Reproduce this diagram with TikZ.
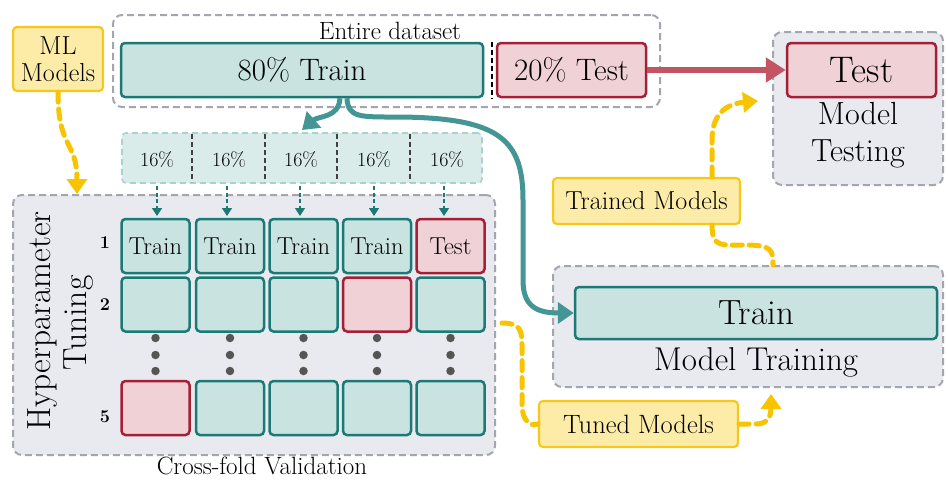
\documentclass[tikz,border=0pt]{standalone}
\usetikzlibrary{arrows.meta,calc}

% palette
\definecolor{tealfill}{HTML}{C8E3E0}
\definecolor{tealline}{HTML}{1C7A76}
\definecolor{tealarrow}{HTML}{439694}
\definecolor{stripfill}{HTML}{D9ECEA}
\definecolor{stripline}{HTML}{A7D2CE}
\definecolor{pinkfill}{HTML}{EFD1D6}
\definecolor{redline}{HTML}{A51F36}
\definecolor{redarrow}{HTML}{C25463}
\definecolor{grayfill}{HTML}{E9EAEF}
\definecolor{grayline}{HTML}{A4A6AF}
\definecolor{notefill}{HTML}{FDEBA8}
\definecolor{noteline}{HTML}{F6C81A}
\definecolor{yarrowc}{HTML}{F8C400}
\definecolor{dotc}{HTML}{555555}

\newcommand{\tsize}[2]{\fontsize{#1}{#2}\selectfont}

\tikzset{
  groupbox/.style={draw=grayline, fill=grayfill, line width=2pt,
    dash pattern=on 7pt off 4pt, rounded corners=9pt, inner sep=0pt},
  trainbox/.style={draw=tealline, fill=tealfill, line width=2.5pt,
    rounded corners=4pt, inner sep=0pt},
  testbox/.style={draw=redline, fill=pinkfill, line width=2.5pt,
    rounded corners=4pt, inner sep=0pt},
  notebox/.style={draw=noteline, fill=notefill, line width=2.2pt,
    rounded corners=4pt, inner sep=0pt, align=center},
  cell/.style={minimum width=68pt, minimum height=54pt},
  yarrow/.style={draw=yarrowc, line width=5pt, dash pattern=on 10pt off 7pt,
    line cap=round, -{Triangle[length=15pt,width=20pt]}},
  yline/.style={draw=yarrowc, line width=5pt, dash pattern=on 10pt off 7pt,
    line cap=round},
  tarrow/.style={draw=tealarrow, line width=5pt,
    -{Triangle[length=16pt,width=21pt]}},
  rarrow/.style={draw=redarrow, line width=6pt,
    -{Triangle[length=20pt,width=24pt]}},
  splitarrow/.style={draw=tealline, line width=1.6pt, dash pattern=on 4pt off 2.5pt,
    -{Triangle[length=8pt,width=10pt]}},
  divider/.style={draw=black!75, line width=1.6pt, dash pattern=on 5pt off 3pt},
  gdot/.style={circle, fill=dotc, inner sep=0pt, minimum size=8.5pt},
}

\begin{document}
\begin{tikzpicture}[x=1pt,y=-1pt]
\useasboundingbox[fill=white] (0,0) rectangle (948,480);

% ---------- entire dataset ----------
\node[groupbox, fill=white, minimum width=547pt, minimum height=92pt] (dataset) at (386.5,61) {};
\node[font=\tsize{25}{28}] (datalbl) at (390,31) {Entire dataset};
\node[trainbox, minimum width=362pt, minimum height=54pt, font=\tsize{31}{34}] (train80) at (302,70) {80\% Train};
\node[testbox, minimum width=149pt, minimum height=54pt, font=\tsize{31}{34}] (test20) at (571.5,70) {20\% Test};
\draw[black, line width=2.2pt, dash pattern=on 5pt off 3pt]
  ([xshift=8pt]train80.north east) -- ([xshift=8pt]train80.south east);

% ---------- model testing ----------
\node[groupbox, minimum width=170pt, minimum height=153pt] (testing) at (858,108.5) {};
\node[testbox, minimum width=149pt, minimum height=54pt, font=\tsize{37}{40}] (testT) at (861.5,70) {Test};
\node[align=center, font=\tsize{32}{37}] (testinglbl) at (858,135) {Model\\Testing};

% ---------- ML models ----------
\node[notebox, minimum width=90pt, minimum height=64pt, font=\tsize{26}{27}] (mlm) at (58,59) {ML\\Models};

% ---------- 16% folds ----------
\node[draw=stripline, fill=stripfill, line width=1.6pt, dash pattern=on 6pt off 4pt,
  rounded corners=4pt, minimum width=360pt, minimum height=50pt] (strip) at (302,158) {};
\foreach \x in {192,265,337,410}
  \draw[divider] (\x,134) -- (\x,182);
\foreach \i/\x in {1/157,2/229,3/301,4/374,5/447}
  \node[font=\tsize{20}{22}] (p\i) at (\x,160) {16\%};

% ---------- hyperparameter tuning ----------
\node[groupbox, minimum width=482pt, minimum height=260pt] (hyper) at (254,325) {};

\foreach \i/\x in {1/155.5,2/230,3/303.5,4/377,5/450.5}{
  \coordinate (col\i) at (\x,0);
}
% row 1
\foreach \i in {1,2,3,4}
  \node[trainbox, cell, font=\tsize{24.5}{26}] (r1c\i) at (col\i |- 0,246) {Train};
\node[testbox, cell, font=\tsize{24.5}{26}] (r1c5) at (col5 |- 0,246) {Test};
% row 2
\foreach \i in {1,2,3,5}
  \node[trainbox, cell] (r2c\i) at (col\i |- 0,304.5) {};
\node[testbox, cell] (r2c4) at (col4 |- 0,304.5) {};
% row 5
\node[testbox, cell] (r5c1) at (col1 |- 0,408) {};
\foreach \i in {2,3,4,5}
  \node[trainbox, cell] (r5c\i) at (col\i |- 0,408) {};
% ellipsis dots
\foreach \i in {1,...,5}
  \foreach \y in {338,355,371}
    \node[gdot] at (col\i |- 0,\y) {};
% fold arrows
\foreach \i/\x in {1/157,2/227,3/300,4/374,5/444}
  \draw[splitarrow] (\x,186) -- (\x,216);

\node[font=\bfseries\tsize{18}{20}] (n1) at (105,243) {1};
\node[font=\bfseries\tsize{18}{20}] (n2) at (105,305) {2};
\node[font=\bfseries\tsize{18}{20}] (n5) at (105,417) {5};

\node[rotate=90, font=\tsize{33.5}{36}] (hyplbl) at (42,321) {Hyperparameter};
\node[rotate=90, font=\tsize{33.5}{36}] (tunlbl) at (79,323) {Tuning};
\node[font=\tsize{25}{28}] (cvlbl) at (262,466) {Cross-fold Validation};

% ---------- model training ----------
\node[notebox, minimum width=187pt, minimum height=46pt, font=\tsize{26}{28}] (trained) at (646.5,201) {Trained Models};
\node[groupbox, minimum width=390pt, minimum height=121pt] (training) at (748,326.5) {};
\node[trainbox, minimum width=362pt, minimum height=52pt, font=\tsize{35}{38}] (trainT) at (756,313) {Train};
\node[font=\tsize{33}{36}] (traininglbl) at (756,362) {Model Training};
\node[notebox, minimum width=199pt, minimum height=46pt, font=\tsize{26.5}{28}] (tuned) at (638.5,424) {Tuned Models};

% ---------- connectors ----------
\draw[rarrow] (test20.east) -- (testT.west);

\draw[yarrow] (mlm.south) .. controls (58,150) and (77,140) .. ([xshift=19pt]mlm.south |- hyper.north);

\draw[tarrow] ([xshift=38pt]train80.south) .. controls (339,118) and (318,116) .. (302,130);
\draw[tarrow] ([xshift=45pt]train80.south)
  .. controls (348,118) and (360,117) .. (400,117)
  .. controls (500,118) and (523,140) .. (523,200)
  -- (523,280)
  .. controls (523,305) and (535,313) .. (trainT.west);

\coordinate (ttip) at (758,101);
\draw[yarrow] ([xshift=65.5pt]trained.north) -- (712,140)
  .. controls (712,115) and (725,104) .. (ttip);
\draw[yline] ([xshift=65.5pt]trained.south)
  .. controls (712,248) and (722,245) .. (745,245)
  .. controls (772,245) and (773,250) .. ([xshift=25pt]training.north);

\coordinate (hypout) at (502,323);
\draw[yline] (hypout) .. controls (520,323) and (522,330) .. (522,345)
  -- (522,405) .. controls (522,420) and (530,427) .. (tuned.west);
\coordinate (mtip) at (771,394);
\draw[yarrow] (tuned.east) -- (756,424)
  .. controls (768,424) and (771,416) .. (mtip);
\end{tikzpicture}
\end{document}
